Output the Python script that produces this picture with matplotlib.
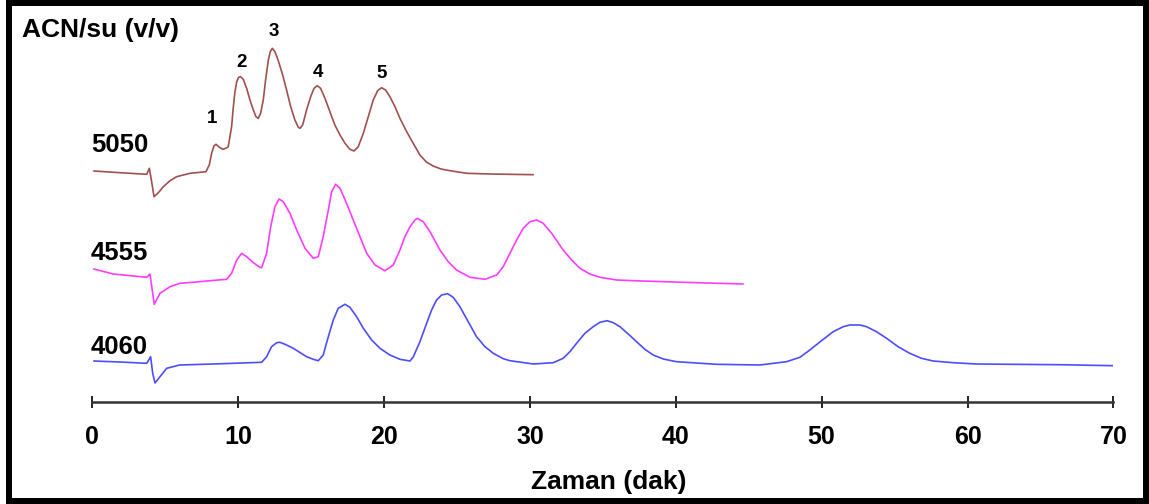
import matplotlib
matplotlib.use("Agg")
import matplotlib.pyplot as plt
from matplotlib.patches import Rectangle

plt.rcParams['font.family'] = ['Liberation Sans', 'DejaVu Sans']

# ---- data (time in min, signal in arbitrary units) ----
t_5050 = [0.1, 1.9, 3.73, 3.91, 4.05, 4.23, 4.53, 4.87, 5.33, 5.78,
          6.70, 7.79, 8.02, 8.18, 8.34, 8.48, 8.71, 8.94, 9.16, 9.32,
          9.55, 9.67, 9.78, 9.90, 10.03, 10.17, 10.35, 10.58, 10.81, 11.04,
          11.22, 11.38, 11.54, 11.72, 11.88, 12.07, 12.20, 12.34, 12.52, 12.75,
          13.05, 13.32, 13.60, 13.89, 14.12, 14.24, 14.42, 14.69, 14.97, 15.20,
          15.42, 15.65, 15.95, 16.29, 16.63, 16.98, 17.32, 17.66, 17.94, 18.23,
          18.58, 18.92, 19.26, 19.56, 19.83, 20.11, 20.40, 20.75, 21.09, 21.55,
          22.00, 22.46, 22.90, 23.37, 23.90, 24.52, 25.66, 27.26, 30.23]
s_5050 = [0, -1.7, -3.3, 2.7, -9, -25.7, -21.7, -15.7, -9.7, -5.7,
          -2.3, -0.7, 6, 17.7, 25, 26.7, 23.7, 21.7, 22.7, 24.3,
          44.3, 64.3, 79.3, 89.3, 93.7, 94.3, 91.7, 82.7, 71, 61,
          54.3, 52.7, 57.7, 71, 91, 111, 119.3, 122.7, 119.3, 110.3,
          96, 81, 64.3, 51, 43.7, 42.7, 46, 61, 74.3, 82.7,
          85.3, 82.7, 72.7, 59.3, 46, 36, 27.7, 21.7, 20, 24.3,
          37.7, 54.3, 71, 80.3, 83.3, 81, 74.3, 64.3, 52.7, 39.3,
          27.7, 16, 9, 5, 2, 0.3, -2.3, -3, -3.7]

t_4555 = [0.1, 1.44, 3.73, 3.95, 4.25, 4.64, 5.33, 6.01, 6.92, 8.07,
          9.21, 9.55, 9.90, 10.24, 10.58, 11.04, 11.49, 11.61, 11.95, 12.23,
          12.52, 12.80, 13.09, 13.55, 14.01, 14.58, 15.15, 15.49, 15.83, 16.18,
          16.41, 16.68, 16.98, 17.43, 17.89, 18.35, 18.81, 19.38, 20.06, 20.63,
          21.09, 21.43, 21.78, 22.12, 22.28, 22.69, 23.15, 23.83, 24.40, 24.97,
          25.89, 26.92, 27.72, 28.17, 28.63, 29.09, 29.54, 30.00, 30.46, 30.91,
          31.49, 32.28, 32.86, 33.43, 34.11, 34.80, 35.94, 37.08, 40.51, 44.62]
s_4555 = [0, -5, -8.3, -5, -35.3, -24.3, -17.7, -14.3, -13.3, -11.7,
          -10.3, -4.3, 9, 15.7, 12.3, 6.3, 1.7, 1.3, 15.7, 42.3,
          62.3, 70, 67.3, 55.7, 39, 20.7, 10.7, 12.3, 32.3, 59,
          77.3, 84.7, 80.7, 65.7, 49, 32.3, 15.7, 4, -1.7, 4,
          19, 32.3, 42.3, 49, 50.7, 47.3, 37.3, 19, 7.3, -1,
          -8.3, -10.3, -6, 2.3, 15.7, 29, 40.7, 47.3, 49, 45.7,
          35.7, 19, 9, 0.7, -5, -8.3, -11, -11.7, -13.3, -15]

t_4060 = [0.1, 1.90, 3.73, 4.00, 4.14, 4.30, 4.64, 5.10, 5.99, 8.30,
          11.61, 11.95, 12.29, 12.64, 12.86, 13.21, 13.78, 14.69, 15.15, 15.49,
          15.83, 16.18, 16.52, 16.86, 17.32, 17.66, 18.12, 18.58, 19.15, 19.72,
          20.40, 21.09, 21.78, 22.00, 22.46, 22.92, 23.26, 23.60, 23.95, 24.36,
          24.74, 25.20, 25.77, 26.34, 26.92, 27.49, 28.17, 28.63, 30.23, 31.60,
          32.28, 32.74, 33.20, 33.77, 34.34, 34.80, 35.30, 35.71, 36.17, 36.74,
          37.31, 37.88, 38.45, 39.14, 40.05, 42.79, 45.76, 47.59, 48.51, 49.19,
          49.99, 50.79, 51.48, 51.93, 52.62, 53.08, 53.76, 54.45, 55.24, 56.04,
          56.84, 57.64, 59.02, 60.61, 62.90, 66.33, 69.98]
s_4060 = [0, -1, -2.3, 4.3, -12.3, -22, -15.7, -7.3, -4, -3,
          -1.3, 4.3, 14.3, 18.3, 18.7, 16.7, 12.7, 4.3, 1.7, 0.3,
          6, 24.3, 41, 52.7, 56.7, 53.7, 44.3, 32.7, 21, 12.7,
          6, 1.7, 0, 4, 19.3, 37.7, 51, 61, 66, 67.3,
          63.7, 54.3, 39.3, 24.3, 14.3, 7.7, 2.3, 0.3, -3, -1.7,
          2.7, 9.3, 17.7, 27.7, 34.3, 38.7, 40.3, 38.3, 34.3, 27,
          19.3, 11.7, 6, 2, -0.7, -3.3, -4, -0.7, 3.7, 11,
          20.3, 29.3, 34.3, 36, 36, 34.3, 29.3, 22.7, 14.3, 7.7,
          2.7, 0, -1.7, -3, -3.3, -3.7, -4.7]

trace_names = ["5050", "4555", "4060"]
peak_labels = ["1", "2", "3", "4", "5"]
peak_times = [8.2, 10.2, 12.45, 15.5, 19.85]
x_ticks = [0, 10, 20, 30, 40, 50, 60, 70]

# ---- figure ----
W, H = 1149, 504
fig = plt.figure(figsize=(W / 100, H / 100), dpi=100)
ax = fig.add_axes([92.3 / W, (H - 402) / H, (1113.4 - 92.3) / W, (402 - 20) / H])
ax.set_xlim(0, 70)
ax.set_ylim(0, 382)

offsets = [231, 133, 41]
colors = ["#a0504e", "#ff3cff", "#4d4dff"]
series = [(t_5050, s_5050), (t_4555, s_4555), (t_4060, s_4060)]
for (tt, ss), off, c in zip(series, offsets, colors):
    ax.plot(tt, [v + off for v in ss], color=c, lw=1.2,
            solid_joinstyle='round', solid_capstyle='round')

for name, ypix in zip(trace_names, [145, 253, 347]):
    ax.text(-0.1, 402 - ypix, name, fontsize=18.5, fontweight='bold',
            ha='left', va='center')

peak_label_y = [284, 340, 371, 330, 329]
for lab, tp, yl in zip(peak_labels, peak_times, peak_label_y):
    ax.text(tp, yl, lab, fontsize=13.5, fontweight='bold', ha='center', va='center')

for sp in ['top', 'right', 'left']:
    ax.spines[sp].set_visible(False)
ax.spines['bottom'].set_linewidth(1.8)
ax.spines['bottom'].set_color('#333333')
ax.set_yticks([])
ax.set_xticks(x_ticks)
ax.set_xticklabels([str(v) for v in x_ticks], fontsize=18, fontweight='bold')
ax.tick_params(axis='x', direction='inout', length=8, width=1.4, pad=12.5,
               color='#222222')
ax.patch.set_visible(False)

fig.text(22 / W, 1 - 37 / H, "ACN/su (v/v)", fontsize=19, fontweight='bold',
         ha='left', va='baseline')
fig.text(609 / W, 1 - 489 / H, "Zaman (dak)", fontsize=19, fontweight='bold',
         ha='center', va='baseline')

# outer black frame
fig.patches.append(Rectangle((8.5 / W, 3 / H), 1137.5 / W, 498.5 / H,
                             transform=fig.transFigure, fill=False, ec='black',
                             lw=4.3, zorder=1))

fig.savefig("out.png", dpi=100)
